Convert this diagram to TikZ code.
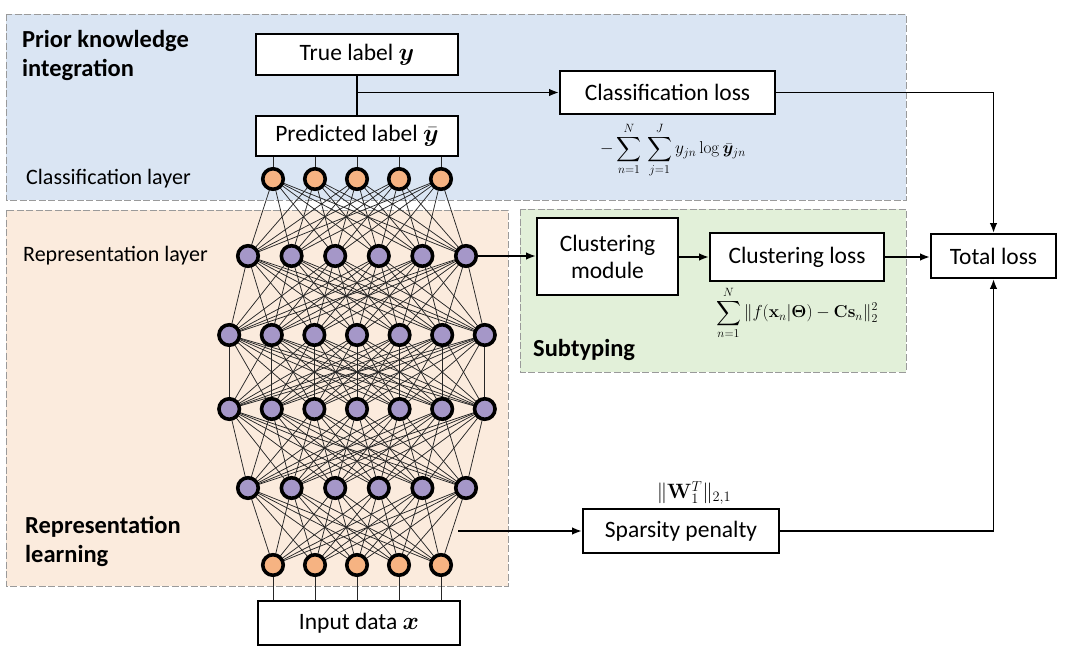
\documentclass[tikz,border=0pt]{standalone}
\usepackage{amsmath,bm}
\usepackage[no-math]{fontspec}
\setmainfont{Carlito}
\usetikzlibrary{arrows.meta}
\definecolor{bgblue}{HTML}{DAE5F3}
\definecolor{bgorange}{HTML}{FBEBDD}
\definecolor{bggreen}{HTML}{E2F0D9}
\definecolor{nodeorange}{HTML}{F6B382}
\definecolor{nodepurple}{HTML}{A597C8}
\definecolor{regionline}{HTML}{9A9A9A}
\begin{document}
\begin{tikzpicture}[x=1pt,y=-1pt,
  region/.style={draw=regionline, dash pattern=on 7pt off 2.5pt, line width=0.9pt},
  box/.style={draw=black, line width=1.8pt, fill=white, inner sep=0pt, align=center,
              font=\fontsize{23.5}{27}\selectfont},
  neuronO/.style={circle, draw=black, line width=3.6pt, fill=nodeorange, minimum size=20.5pt, inner sep=0pt},
  neuronP/.style={circle, draw=black, line width=3.6pt, fill=nodepurple, minimum size=20.5pt, inner sep=0pt},
  netedge/.style={line width=0.75pt, black!85},
  arr/.style={line width=1.8pt, -{Latex[length=10pt,width=7.5pt]}},
  conn/.style={line width=1.8pt},
  lbl/.style={anchor=west, inner sep=0pt, align=left, font=\fontsize{22}{26}\selectfont},
  blbl/.style={anchor=west, inner sep=0pt, align=left, font=\fontsize{24.5}{29}\selectfont\bfseries},
  formula/.style={inner sep=0pt, font=\fontsize{18}{21}\selectfont}
]
\useasboundingbox (0,0) rectangle (1080,653);

% regions
\path[region, fill=bgblue] (6,14) rectangle (906,200);
\path[region, fill=bgorange] (6,210) rectangle (508,586);
\path[region, fill=bggreen] (520,209) rectangle (906,372);

% region labels
\node[blbl] (tprior) at (22,55) {Prior knowledge\\integration};
\node[lbl] (tclass) at (26,179) {Classification layer};
\node[lbl] (trep) at (23,256) {Representation layer};
\node[blbl] (trepl) at (25,541) {Representation\\learning};
\node[blbl] (tsub) at (533,350) {Subtyping};

% neuron positions
\foreach \i in {1,...,5} {
  \coordinate (pA\i) at ({357+(\i-3)*42},179);
  \coordinate (pF\i) at ({357+(\i-3)*42},565);
}
\foreach \i in {1,...,6} {
  \coordinate (pB\i) at ({357+(\i-3.5)*43.6},256);
  \coordinate (pE\i) at ({357+(\i-3.5)*43.6},488);
}
\foreach \i in {1,...,7} {
  \coordinate (pC\i) at ({357+(\i-4)*42.6},335);
  \coordinate (pD\i) at ({357+(\i-4)*42.6},409);
}

% edges (drawn between centres, nodes cover them)
\foreach \i in {1,...,5} \foreach \j in {1,...,6} \draw[netedge] (pA\i) -- (pB\j);
\foreach \i in {1,...,6} \foreach \j in {1,...,7} \draw[netedge] (pB\i) -- (pC\j);
\foreach \i in {1,...,7} \foreach \j in {1,...,7} \draw[netedge] (pC\i) -- (pD\j);
\foreach \i in {1,...,7} \foreach \j in {1,...,6} \draw[netedge] (pD\i) -- (pE\j);
\foreach \i in {1,...,6} \foreach \j in {1,...,5} \draw[netedge] (pE\i) -- (pF\j);

\foreach \i in {1,...,5} {
  \node[neuronO] (A\i) at (pA\i) {};
  \node[neuronO] (F\i) at (pF\i) {};
}
\foreach \i in {1,...,6} {
  \node[neuronP] (B\i) at (pB\i) {};
  \node[neuronP] (E\i) at (pE\i) {};
}
\foreach \i in {1,...,7} {
  \node[neuronP] (C\i) at (pC\i) {};
  \node[neuronP] (D\i) at (pD\i) {};
}

% boxes
\node[box, minimum width=202pt, minimum height=41pt] (true) at (357,54.5) {True label $\boldsymbol{y}$};
\node[box, minimum width=202pt, minimum height=40pt] (pred) at (357,136) {Predicted label $\bar{\boldsymbol{y}}$};
\node[box, minimum width=202pt, minimum height=44pt] (input) at (359,623) {Input data $\boldsymbol{x}$};
\node[box, minimum width=215pt, minimum height=43pt] (closs) at (667.5,92.5) {Classification loss};
\node[box, minimum width=141pt, minimum height=77pt] (clmod) at (607.5,256.5) {Clustering\\module};
\node[box, minimum width=174pt, minimum height=48pt] (clloss) at (797,257) {Clustering loss};
\node[box, minimum width=125pt, minimum height=44pt] (total) at (993.5,256) {Total loss};
\node[box, minimum width=196pt, minimum height=44pt] (sparse) at (681,531) {Sparsity penalty};

% short connectors to label boxes
\foreach \i in {1,...,5} {
  \draw[netedge] (A\i.north) -- (A\i.north |- pred.south);
  \draw[netedge] (F\i.south) -- (F\i.south |- input.north);
}

% formulas
\node[formula] (f1) at (673,150) {$\displaystyle -\sum_{n=1}^{N}\,\sum_{j=1}^{J} y_{jn}\log\bar{\boldsymbol{y}}_{jn}$};
\node[formula] (f2) at (797,313) {$\displaystyle \sum_{n=1}^{N}\|f(\mathbf{x}_n|\boldsymbol{\Theta})-\mathbf{C}\mathbf{s}_n\|_2^2$};
\node[formula, font=\fontsize{20}{24}\selectfont] (f3) at (694,493) {$\|\mathbf{W}_1^T\|_{2,1}$};

% connectors
\draw[conn] (true.south) -- (pred.north);
\draw[arr] (true.south |- closs.west) -- (closs.west);
\draw[arr] (closs.east) -| (total.north);
\draw[arr] (B6.east) -- (B6.east -| clmod.west);
\draw[arr] (clmod.east |- clloss.west) -- (clloss.west);
\draw[arr] (clloss.east) -- (clloss.east -| total.west);
\coordinate (sp0) at (458,531);
\draw[arr] (sp0) -- (sparse.west);
\draw[arr] (sparse.east) -| (total.south);
\end{tikzpicture}
\end{document}
